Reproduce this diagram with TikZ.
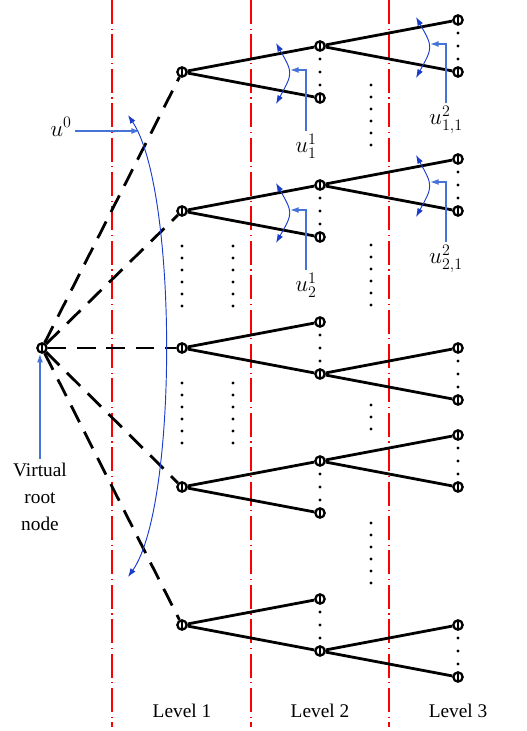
\documentclass[tikz,border=0pt]{standalone}
\usepackage{fontspec}
\setmainfont{Liberation Serif}
\usepackage{tikz}
\usetikzlibrary{arrows.meta}

\definecolor{ctrlblue}{RGB}{25,60,205}
\definecolor{ptrblue}{RGB}{70,115,215}

\begin{document}
\begin{tikzpicture}[x=0.75pt,y=-0.75pt,
  vnode/.style={circle, draw, line width=1.7pt, fill=white, inner sep=0pt, minimum size=7pt,
    path picture={\draw[line width=0.9pt] (path picture bounding box.north) -- (path picture bounding box.south);}},
  branch/.style={line width=2.1pt},
  dbranch/.style={line width=2.1pt, dash pattern=on 14pt off 8pt},
  divider/.style={draw=red, line width=1.2pt, dash pattern=on 18pt off 3.5pt on 0.8pt off 3.5pt},
  ctrl/.style={draw=ctrlblue, line width=0.7pt, {Latex[length=6.5pt,width=4.5pt]}-{Latex[length=6.5pt,width=4.5pt]}},
  ptr/.style={draw=ptrblue, line width=1pt, -{Latex[length=6.5pt,width=4.5pt]}},
  lbl/.style={font=\fontsize{14.5}{20}\selectfont, align=center},
  mlbl/.style={font=\fontsize{17}{20}\selectfont, inner sep=2pt}]
\useasboundingbox (0,0) rectangle (526,731);

% level dividers
\foreach \x in {112,251,389}
  \draw[divider] (\x,0) -- (\x,727);

% virtual root
\node[vnode] (root) at (42,348) {};

% trees: level-1 node, its two children, and the children of one of them
\foreach \i/\y/\s in {1/72/-1,2/211/-1,3/348/1,4/487/-1,5/625/1}{
  \pgfmathsetmacro\yc{\y+26*\s}
  \pgfmathtruncatemacro\k{(3+\s)/2}
  \node[vnode] (a\i) at (182,\y) {};
  \node[vnode] (b\i1) at (320,\y-26) {};
  \node[vnode] (b\i2) at (320,\y+26) {};
  \node[vnode] (c\i1) at (458,\yc-26) {};
  \node[vnode] (c\i2) at (458,\yc+26) {};
  \draw[dbranch] (root) -- (a\i);
  \draw[branch] (a\i) -- (b\i1);
  \draw[branch] (a\i) -- (b\i2);
  \draw[branch] (b\i\k) -- (c\i1);
  \draw[branch] (b\i\k) -- (c\i2);
  \foreach \d in {13,26,39}{
    \fill (320,\y-26+\d) circle (1.2pt);
    \fill (458,\yc-26+\d) circle (1.2pt);
  }
}

% omitted nodes
\foreach \y in {246,258,...,306,383,395,...,443}{
  \fill (182,\y) circle (1.2pt);
  \fill (233,\y) circle (1.2pt);
}
\foreach \y in {85,97,...,145,245,257,...,305,405,417,429,523,535,...,583}
  \fill (371,\y) circle (1.2pt);

% control at level 0
\coordinate (k0t) at (128,115);
\coordinate (k0b) at (128,577);
\draw[ctrl] (k0t) .. controls (178,190) and (178,506) .. (k0b);
\node[mlbl] (u0) at (61,127) {$u^0$};
\coordinate (k0p) at (140,131);
\draw[ptr] (u0.east |- k0p) -- (k0p);

% controls at level 1
\coordinate (k1t) at (276,43);
\coordinate (k1b) at (276,104);
\draw[ctrl] (k1t) .. controls (293,73) .. (k1b);
\coordinate (k1p) at (290,70);
\node[mlbl] (u11) at (306,146) {$u_1^1$};
\draw[ptr] (u11.north) |- (k1p);

\coordinate (k2t) at (276,183);
\coordinate (k2b) at (276,243);
\draw[ctrl] (k2t) .. controls (293,213) .. (k2b);
\coordinate (k2p) at (290,210);
\node[mlbl] (u21) at (306,285) {$u_2^1$};
\draw[ptr] (u21.north) |- (k2p);

% controls at level 2
\coordinate (k3t) at (416,17);
\coordinate (k3b) at (416,78);
\draw[ctrl] (k3t) .. controls (433,47) .. (k3b);
\coordinate (k3p) at (430,44);
\node[mlbl] (u211) at (446,120) {$u_{1,1}^2$};
\draw[ptr] (u211.north) |- (k3p);

\coordinate (k4t) at (416,155);
\coordinate (k4b) at (416,217);
\draw[ctrl] (k4t) .. controls (433,186) .. (k4b);
\coordinate (k4p) at (430,182);
\node[mlbl] (u221) at (446,259) {$u_{2,1}^2$};
\draw[ptr] (u221.north) |- (k4p);

% root label
\node[lbl] (rootlbl) at (40,497) {Virtual\\root\\node};
\draw[ptr] (rootlbl.north) -- (rootlbl.north |- root.south);

% level labels
\node[lbl] (lev1) at (182,711) {Level 1};
\node[lbl] (lev2) at (320,711) {Level 2};
\node[lbl] (lev3) at (458,711) {Level 3};
\end{tikzpicture}
\end{document}
